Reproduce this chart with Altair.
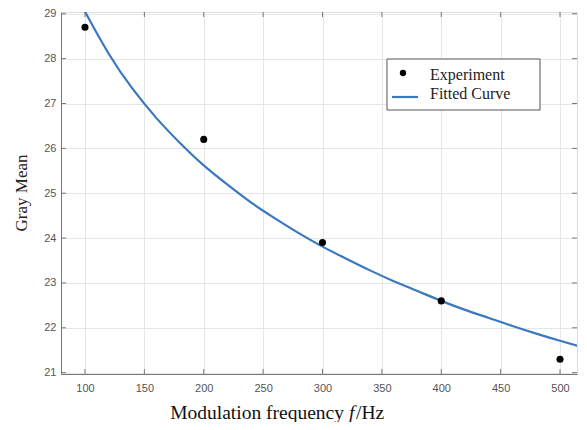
import altair as alt
import pandas as pd

# Experimental data
exp_x = [100, 200, 300, 400, 500]
exp_y = [28.7, 26.2, 23.9, 22.6, 21.3]

# Fitted curve
fit_x = [95, 100, 120, 140, 160, 180, 200, 220, 240, 260, 280, 300, 320, 340, 360, 380, 400, 420, 440, 460, 480, 500, 520]
fit_y = [29.32, 29.05, 28.11, 27.33, 26.68, 26.12, 25.62, 25.19, 24.79, 24.44, 24.11, 23.81, 23.54, 23.28, 23.04, 22.82, 22.60, 22.40, 22.22, 22.04, 21.87, 21.71, 21.56]

x_ticks = [100, 150, 200, 250, 300, 350, 400, 450, 500]
y_ticks = [21, 22, 23, 24, 25, 26, 27, 28, 29]
legend_labels = ["Experiment", "Fitted Curve"]

exp_df = pd.DataFrame({"x": exp_x, "y": exp_y})
fit_df = pd.DataFrame({"x": fit_x, "y": fit_y})
xt_df = pd.DataFrame({"x": x_ticks})
yt_df = pd.DataFrame({"y": y_ticks})

W, H = 516, 362
xs = alt.Scale(domain=[79.8, 514.3], nice=False, zero=False)
ys = alt.Scale(domain=[20.97, 29.04], nice=False, zero=False)

xax = alt.Axis(values=x_ticks, title=None,
               labelFont="Liberation Sans", labelFontSize=11, labelColor="#555555",
               labelPadding=8, ticks=False, domainColor="#777777", gridColor="#e6e6e6")
yax = alt.Axis(values=y_ticks, title=None,
               labelFont="Liberation Sans", labelFontSize=11, labelColor="#555555",
               labelPadding=5, ticks=False, domainColor="#777777", gridColor="#e6e6e6")

curve = alt.Chart(fit_df).mark_line(color="#3a78c0", strokeWidth=2.2, clip=True, interpolate="natural").encode(
    x=alt.X("x:Q", scale=xs, axis=xax),
    y=alt.Y("y:Q", scale=ys, axis=yax),
)
pts = alt.Chart(exp_df).mark_circle(color="black", size=50, opacity=1).encode(
    x=alt.X("x:Q", scale=xs),
    y=alt.Y("y:Q", scale=ys),
)

# inward ticks (MATLAB style) on all four sides
tk = dict(color="#777777", strokeWidth=1)
xt_bot = alt.Chart(xt_df).mark_rule(**tk).encode(x=alt.X("x:Q", scale=xs), y=alt.value(H), y2=alt.value(H - 5))
xt_top = alt.Chart(xt_df).mark_rule(**tk).encode(x=alt.X("x:Q", scale=xs), y=alt.value(0), y2=alt.value(5))
yt_left = alt.Chart(yt_df).mark_rule(**tk).encode(y=alt.Y("y:Q", scale=ys), x=alt.value(0), x2=alt.value(5))
yt_right = alt.Chart(yt_df).mark_rule(**tk).encode(y=alt.Y("y:Q", scale=ys), x=alt.value(W), x2=alt.value(W - 5))

# Legend box
box = alt.Chart(pd.DataFrame({"a": [0]})).mark_rect(fill="white", stroke="#555555", strokeWidth=1).encode(
    x=alt.value(326), x2=alt.value(479), y=alt.value(47), y2=alt.value(98))
leg_dot = alt.Chart(pd.DataFrame({"a": [0]})).mark_circle(color="black", size=40, opacity=1).encode(
    x=alt.value(342), y=alt.value(61))
leg_line = alt.Chart(pd.DataFrame({"a": [0]})).mark_rule(color="#3a78c0", strokeWidth=2.2).encode(
    x=alt.value(331), x2=alt.value(357), y=alt.value(85))
leg_text = alt.Chart(pd.DataFrame({"t": legend_labels, "yy": [63, 82]})).mark_text(
    align="left", baseline="middle", font="Liberation Serif", fontSize=16, color="#222222").encode(
    x=alt.value(369), y=alt.Y("yy:Q", scale=None), text="t:N")

# Axis titles
ytitle = alt.Chart(pd.DataFrame({"a": [0]})).mark_text(
    text="Gray Mean", angle=270, font="Liberation Serif", fontSize=17, color="#222222",
    align="center", baseline="middle").encode(x=alt.value(-39), y=alt.value(181))
xt1 = alt.Chart(pd.DataFrame({"a": [0]})).mark_text(
    text="Modulation frequency", font="Liberation Serif", fontSize=19.5, color="#111111",
    align="right", baseline="middle").encode(x=alt.value(283), y=alt.value(401))
xt2 = alt.Chart(pd.DataFrame({"a": [0]})).mark_text(
    text="f", font="Liberation Serif", fontSize=19.5, fontStyle="italic", color="#111111",
    align="left", baseline="middle").encode(x=alt.value(288), y=alt.value(401))
xt3 = alt.Chart(pd.DataFrame({"a": [0]})).mark_text(
    text="/Hz", font="Liberation Serif", fontSize=19.5, color="#111111",
    align="left", baseline="middle").encode(x=alt.value(295), y=alt.value(401))

chart = alt.layer(curve, pts, xt_bot, xt_top, yt_left, yt_right, box, leg_dot, leg_line, leg_text,
                  ytitle, xt1, xt2, xt3).properties(
    width=W, height=H,
    autosize=alt.AutoSizeParams(type="none"),
    padding={"left": 53, "top": 4, "right": 2, "bottom": 48},
).configure_view(stroke="#888888", strokeWidth=1).configure(background="white")

chart.save("out.html", embed_options={"renderer": "svg", "actions": False})
